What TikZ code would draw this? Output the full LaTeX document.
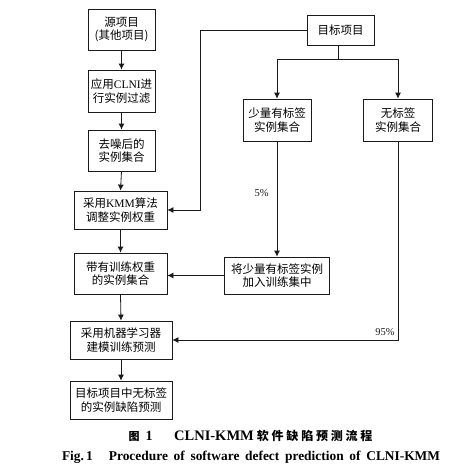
\documentclass[tikz,border=0pt]{standalone}
\usepackage{fontspec}
\usetikzlibrary{arrows.meta}
\setmainfont{Liberation Serif}
\newfontfamily\cjk{Noto Sans CJK SC}
\definecolor{FlowLine}{HTML}{1A1A1A}

\begin{document}
\begin{tikzpicture}[x=1pt,y=-1pt,
  box/.style={draw=FlowLine,line width=0.8pt,align=center,inner sep=0pt,
    font=\cjk\fontsize{11.5}{13.5}\selectfont},
  flow/.style={FlowLine,line width=0.8pt},
  arr/.style={flow,-{Latex[length=6pt,width=6pt]}},
  pct/.style={font=\fontsize{10.5}{12}\selectfont,inner sep=1pt},
  captext/.style={font=\bfseries\fontsize{13.4}{16}\selectfont,inner sep=0pt}]
  \useasboundingbox (0,0) rectangle (455,469);
  % left column
  \node[box,minimum width=67pt,minimum height=41pt] (src) at (121.5,29.5) {源项目\\(其他项目)};
  \node[box,minimum width=67pt,minimum height=42pt] (clni) at (121.5,91) {应用{\rmfamily CLNI}进\\行实例过滤};
  \node[box,minimum width=67pt,minimum height=41pt] (den) at (121.5,150.5) {去噪后的\\实例集合};
  \node[box,minimum width=93pt,minimum height=38pt] (kmm) at (120.5,210) {采用{\rmfamily KMM}算法\\调整实例权重};
  \node[box,minimum width=93pt,minimum height=41pt] (wt) at (120.5,273.5) {带有训练权重\\的实例集合};
  \node[box,minimum width=102pt,minimum height=38pt] (ml) at (121,340) {采用机器学习器\\建模训练预测};
  \node[box,minimum width=102pt,minimum height=38pt] (out) at (121,400) {目标项目中无标签\\的实例缺陷预测};
  % right side
  \node[box,minimum width=67pt,minimum height=30pt] (tgt) at (340.5,30) {目标项目};
  \node[box,minimum width=68pt,minimum height=42pt] (few) at (277,120) {少量有标签\\实例集合};
  \node[box,minimum width=69pt,minimum height=42pt] (unl) at (398,120) {无标签\\实例集合};
  \node[box,minimum width=105pt,minimum height=37pt] (add) at (277,275.5) {将少量有标签实例\\加入训练集中};
  \foreach \a/\b in {src/clni,clni/den,den/kmm,kmm/wt,wt/ml,ml/out}{
    \draw[arr] (\a.south) -- (\b.north);
  }
  \draw[arr] (tgt.west) -| (200,210) -- (kmm.east);
  \coordinate (split) at (338,59);
  \draw[flow] (tgt.south -| split) -- (split);
  \draw[arr] (split) -| (few.north);
  \draw[arr] (split) -| (unl.north);
  \draw[arr] (few.south) -- (add.north) node[pct,pos=0.45,left=7pt] (p5) {5\%};
  \draw[arr] (add.west) -- (wt.east |- add.west);
  \draw[arr] (unl.south) |- (ml.east) node[pct,pos=0.5,anchor=south east,xshift=-2pt,yshift=3pt] (p95) {95\%};
  % caption
  \node[captext] (cap1) at (250.5,435.5) {\makebox[244pt][s]{{\cjk\fontsize{11}{13}\selectfont 图}\hspace{6pt}{\fontsize{14}{15}\selectfont 1}\hfill
    {\fontsize{14.5}{15}\selectfont CLNI-KMM}\hspace{3pt}{\cjk\fontsize{12}{14}\selectfont 软\hspace{2.8pt}件\hspace{2.8pt}缺\hspace{2.8pt}陷\hspace{2.8pt}预\hspace{2.8pt}测\hspace{2.8pt}流\hspace{2.8pt}程}}};
  \node[captext] (cap2) at (251,457) {\makebox[378pt][s]{Fig.\,1\hspace{16pt}Procedure of software defect prediction of CLNI-KMM}};
\end{tikzpicture}
\end{document}
